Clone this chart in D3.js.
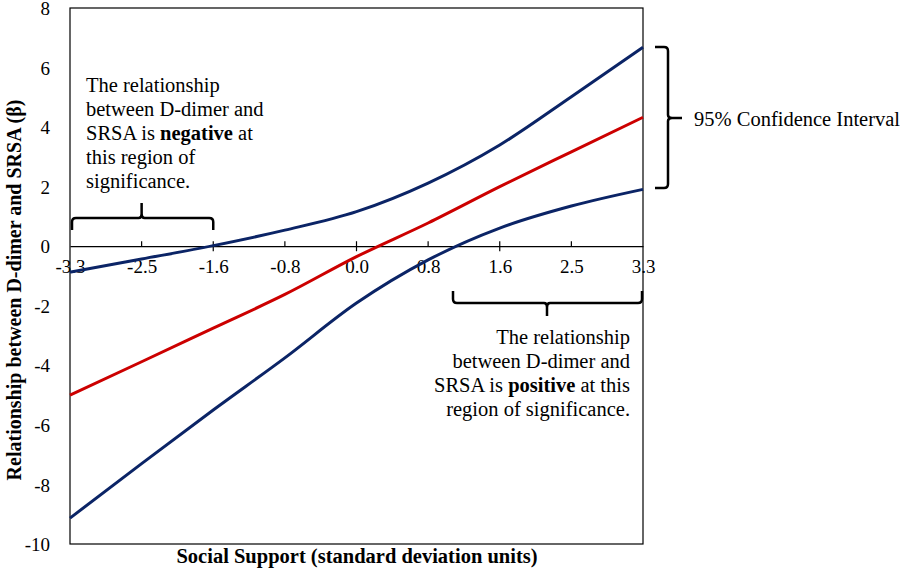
<!DOCTYPE html>
<html>
<head>
<meta charset="utf-8">
<script src="https://cdn.jsdelivr.net/npm/d3@7/dist/d3.min.js"></script>
<style>
  html, body { margin: 0; padding: 0; background: #fff; }
  svg { display: block; }
</style>
</head>
<body>
<svg id="chart" width="900" height="571"></svg>
<script>
// ---- data ----
const xLabels   = ["-3.3", "-2.5", "-1.6", "-0.8", "0.0", "0.8", "1.6", "2.5", "3.3"];
const upperCI   = [-0.87, -0.43, 0.02, 0.54, 1.16, 2.12, 3.40, 5.02, 6.68];
const estimate  = [-5.00, -3.88, -2.75, -1.62, -0.35, 0.78, 2.00, 3.17, 4.33];
const lowerCI   = [-9.13, -7.30, -5.50, -3.75, -1.91, -0.46, 0.61, 1.35, 1.91];
const yTicks    = [-10, -8, -6, -4, -2, 0, 2, 4, 6, 8];
const majorTickLabels = ["-1.6", "0.0", "1.6"];
const minorTickLabels = ["-2.5", "-0.8", "0.8", "2.5"];

const FONT = '"Liberation Serif"';
const svg = d3.select("#chart");
const L = 70, R = 643, T = 8, B = 544;

const x = d3.scalePoint().domain(xLabels).range([L, R]).padding(0);
const y = d3.scaleLinear().domain([-10, 8]).range([B, T]);

// plot border
svg.append("rect")
  .attr("x", L).attr("y", T).attr("width", R - L).attr("height", B - T)
  .attr("fill", "none").attr("stroke", "#000").attr("stroke-width", 1.2);

// y axis labels
const yAxis = d3.axisLeft(y).tickValues(yTicks).tickSize(0).tickPadding(20)
  .tickFormat(d => String(d));
const gy = svg.append("g").attr("transform", `translate(${L},0)`).call(yAxis);
gy.select(".domain").remove();
gy.selectAll("text").style("font-family", FONT).style("font-size", "19px").attr("fill", "#000").attr("dy", "0.35em");

// x axis at y=0
const y0 = y(0);
const xAxis = d3.axisBottom(x).tickSize(0).tickPadding(13);
const gx = svg.append("g").attr("transform", `translate(0,${y0})`).call(xAxis);
gx.select(".domain").attr("stroke", "#000").attr("stroke-width", 1.2);
gx.selectAll("text").style("font-family", FONT).style("font-size", "19px").attr("fill", "#000");

// tick marks
svg.selectAll(".major").data(majorTickLabels).enter().append("line")
  .attr("x1", d => x(d)).attr("x2", d => x(d))
  .attr("y1", y0 - 5).attr("y2", y0 + 5)
  .attr("stroke", "#000").attr("stroke-width", 1.2);
svg.selectAll(".minor").data(minorTickLabels).enter().append("line")
  .attr("x1", d => x(d)).attr("x2", d => x(d))
  .attr("y1", y0 - 5).attr("y2", y0)
  .attr("stroke", "#000").attr("stroke-width", 1.2);

// lines
const line = d3.line()
  .x((d, i) => x(xLabels[i]))
  .y(d => y(d))
  .curve(d3.curveMonotoneX);

const series = [
  { values: upperCI, color: "#0b2466" },
  { values: lowerCI, color: "#0b2466" },
  { values: estimate, color: "#cc0000" }
];
svg.selectAll(".series").data(series).enter().append("path")
  .attr("d", d => line(d.values))
  .attr("fill", "none")
  .attr("stroke", d => d.color)
  .attr("stroke-width", 3)
  .attr("stroke-linejoin", "round");

// axis titles
svg.append("text")
  .attr("transform", "translate(21,290) rotate(-90)")
  .attr("text-anchor", "middle")
  .style("font-family", FONT)
  .style("font-size", "20px").style("font-weight", "bold")
  .text("Relationship between D-dimer and SRSA (β)");

svg.append("text")
  .attr("x", 357).attr("y", 563)
  .attr("text-anchor", "middle")
  .style("font-family", FONT)
  .style("font-size", "20.5px").style("font-weight", "bold")
  .text("Social Support (standard deviation units)");

// braces
const braceStyle = g => g.attr("fill", "none").attr("stroke", "#000").attr("stroke-width", 2.5);

// left brace (horizontal, tip up)
(function () {
  const x1 = x("-3.3") + 2, x2 = x("-1.6"), yb = 218, hook = 12, tip = 15;
  const xm = x("-2.5");
  const p = `M${x1},${yb + hook} L${x1},${yb + 4} Q${x1},${yb} ${x1 + 4},${yb}
    L${xm - 3},${yb} Q${xm},${yb} ${xm},${yb - 4} L${xm},${yb - tip}
    M${xm},${yb - 4} Q${xm},${yb} ${xm + 3},${yb}
    L${x2 - 4},${yb} Q${x2},${yb} ${x2},${yb + 4} L${x2},${yb + hook}`;
  svg.append("path").attr("d", p).call(braceStyle);
})();

// bottom-right brace (horizontal, tip down)
(function () {
  const x1 = 453, x2 = x("3.3") - 1, yb = 303, hook = 12, tip = 13;
  const xm = 547;
  const p = `M${x1},${yb - hook} L${x1},${yb - 4} Q${x1},${yb} ${x1 + 4},${yb}
    L${xm - 3},${yb} Q${xm},${yb} ${xm},${yb + 4} L${xm},${yb + tip}
    M${xm},${yb + 4} Q${xm},${yb} ${xm + 3},${yb}
    L${x2 - 4},${yb} Q${x2},${yb} ${x2},${yb - 4} L${x2},${yb - hook}`;
  svg.append("path").attr("d", p).call(braceStyle);
})();

// right brace (vertical, tip right) for CI
(function () {
  const xb = 668, y1 = 47, y2 = 188, ym = 118, hook = 13, tip = 14;
  const p = `M${xb - hook},${y1} L${xb - 4},${y1} Q${xb},${y1} ${xb},${y1 + 4}
    L${xb},${ym - 3} Q${xb},${ym} ${xb + 4},${ym} L${xb + tip},${ym}
    M${xb + 4},${ym} Q${xb},${ym} ${xb},${ym + 3}
    L${xb},${y2 - 4} Q${xb},${y2} ${xb - 4},${y2} L${xb - hook},${y2}`;
  svg.append("path").attr("d", p).call(braceStyle);
})();

// annotations
svg.append("text").attr("x", 694).attr("y", 126)
  .style("font-family", FONT)
  .style("font-size", "20.5px").text("95% Confidence Interval");

function multiline(xp, y0p, anchor, lines) {
  const t = svg.append("text").attr("text-anchor", anchor)
    .style("font-family", FONT).style("font-size", "20.5px");
  lines.forEach((ln, i) => {
    const ts = t.append("tspan").attr("x", xp).attr("y", y0p + i * 24);
    ln.forEach(seg => {
      ts.append("tspan").text(seg[0]).style("font-weight", seg[1] ? "bold" : "normal");
    });
  });
}

multiline(86, 92, "start", [
  [["The relationship", false]],
  [["between D-dimer and", false]],
  [["SRSA is ", false], ["negative", true], [" at", false]],
  [["this region of", false]],
  [["significance.", false]]
]);

multiline(630, 344, "end", [
  [["The relationship", false]],
  [["between D-dimer and", false]],
  [["SRSA is ", false], ["positive", true], [" at this", false]],
  [["region of significance.", false]]
]);
</script>
</body>
</html>
